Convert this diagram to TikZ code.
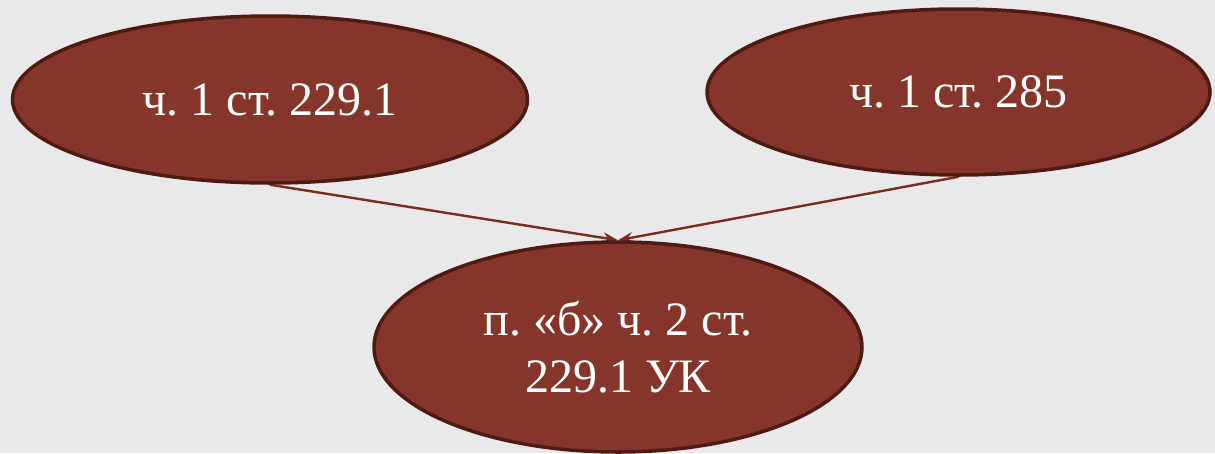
\documentclass[tikz,border=0pt]{standalone}
\usepackage{fontspec}
\setmainfont{Liberation Serif}
\usetikzlibrary{shapes.geometric,arrows.meta}
\definecolor{bgc}{HTML}{E9E9E9}
\definecolor{fillc}{HTML}{86352A}
\definecolor{linec}{HTML}{4E1B12}
\definecolor{edgec}{HTML}{7A2C1F}
\pgfdeclarelayer{bglayer}
\pgfdeclarelayer{edgelayer}
\pgfsetlayers{bglayer,edgelayer,main}
\tikzset{
  oval/.style={ellipse, fill=fillc, draw=linec, line width=3.5pt, inner sep=0pt,
    text=white, align=center, font=\fontsize{48}{57}\selectfont\frenchspacing},
  conn/.style={draw=edgec, line width=2.4pt, -{Stealth[length=15pt,width=11pt,inset=5pt]}}
}
\begin{document}
\frenchspacing
\begin{tikzpicture}[x=1pt,y=-1pt]
\begin{pgfonlayer}{bglayer}
\fill[bgc] (0,0) rectangle (1215,453);
\end{pgfonlayer}
\useasboundingbox (0,0) rectangle (1215,453);
\node[oval, minimum width=515pt, minimum height=167pt] (a) at (270,99.5) {ч. 1 ст. 229.1};
\node[oval, minimum width=503pt, minimum height=166pt] (b) at (958.5,92) {ч. 1 ст. 285};
\node[oval, minimum width=488pt, minimum height=210pt] (c) at (618,347) {п. «б» ч. 2 ст.\\229.1 УК};
\begin{pgfonlayer}{edgelayer}
\draw[conn] (a.south) -- (c.north);
\draw[conn] (b.south) -- (c.north);
\end{pgfonlayer}
\end{tikzpicture}
\end{document}
